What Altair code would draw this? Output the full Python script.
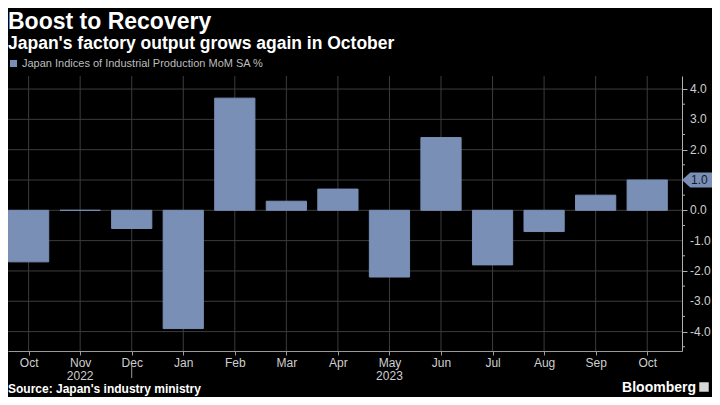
import json
import altair as alt
import pandas as pd

# ---- data ----
months = ["Oct", "Nov", "Dec", "Jan", "Feb", "Mar", "Apr", "May", "Jun", "Jul", "Aug", "Sep", "Oct"]
values = [-1.7, 0.0, -0.6, -3.9, 3.7, 0.3, 0.7, -2.2, 2.4, -1.8, -0.7, 0.5, 1.0]
years = ["2022", "2023"]
year_month_index = [1, 7]
separator_index = [2]
series_name = "Japan Indices of Industrial Production MoM SA %"
y_major = [-4.0, -3.0, -2.0, -1.0, 0.0, 1.0, 2.0, 3.0, 4.0]
y_major_labels = ["-4.0", "-3.0", "-2.0", "-1.0", "0.0", "1.0", "2.0", "3.0", "4.0"]
y_minor = [-4.5, -3.5, -2.5, -1.5, -0.5, 0.5, 1.5, 2.5, 3.5]

# ---- styling ----
W, H = 674, 275
BAR = "#7a8fb6"
LABEL = "#cfcfcf"
AXIS = "#b0b0b0"
GRID = "#3c3c3c"
FONT = "Liberation Sans"

df = pd.DataFrame({"idx": list(range(len(months))), "month": months,
                   "value": values, "series": series_name})
df_years = pd.DataFrame({"idx": year_month_index, "year": years})
df_sep = pd.DataFrame({"idx": separator_index})
df_minor = pd.DataFrame({"v": y_minor})
df_major = pd.DataFrame({"v": y_major, "label": y_major_labels})
df_last = df.tail(1).copy()
df_last["label"] = df_last["value"].map(lambda v: f"{v:.1f}")

xscale = alt.Scale(domain=[-0.4, 12.675], nice=False, zero=False)
yscale = alt.Scale(domain=[-4.64, 4.43], nice=False)

month_expr = json.dumps(months) + "[datum.value]"

# grid lines (behind the bars)
grid_v = alt.Chart(df).mark_rule(color=GRID, strokeWidth=1, opacity=1).encode(
    x=alt.X("idx:Q", scale=xscale, title=None,
            axis=alt.Axis(values=list(range(len(months))), labelExpr=month_expr,
                          grid=False, domainColor="#9a9a9a", tickColor="#9a9a9a",
                          tickSize=4, labelColor=LABEL, labelFont=FONT,
                          labelFontSize=12, labelPadding=2)),
    y=alt.value(0), y2=alt.value(H))

grid_h = alt.Chart(df_major).mark_rule(color=GRID, strokeWidth=1, opacity=1).encode(
    y=alt.Y("v:Q", scale=yscale, title=None,
            axis=alt.Axis(orient="right", values=y_major, labels=False, grid=False,
                          domainColor=AXIS, tickColor=AXIS, tickSize=5)),
    x=alt.value(0), x2=alt.value(W))

bars = alt.Chart(df).transform_calculate(
    lo="datum.idx - 0.39", hi="datum.idx + 0.39"
).mark_bar(stroke=BAR, strokeWidth=1).encode(
    x=alt.X("lo:Q", scale=xscale),
    x2="hi:Q",
    y=alt.Y("value:Q", scale=yscale),
    y2=alt.datum(0),
    color=alt.Color("series:N", scale=alt.Scale(range=[BAR]),
                    legend=alt.Legend(orient="none", legendX=0, legendY=-18, title=None,
                                      symbolType="square", symbolSize=50,
                                      symbolStrokeWidth=0, labelColor="#bdbdbd",
                                      labelFont=FONT, labelFontSize=11, labelOffset=3,
                                      labelLimit=600)),
)

minor_ticks = alt.Chart(df_minor).mark_rule(color=AXIS, strokeWidth=1).encode(
    y="v:Q", x=alt.value(W), x2=alt.value(W + 3))

y_labels = alt.Chart(df_major).mark_text(
    font=FONT, fontSize=12, color=LABEL, align="left", baseline="middle"
).encode(y="v:Q", x=alt.value(W + 8), text="label:N")

year_text = alt.Chart(df_years).mark_text(
    font=FONT, fontSize=12, color=LABEL, baseline="top", align="center"
).encode(x="idx:Q", y=alt.value(H + 20), text="year:N")

sep_rule = alt.Chart(df_sep).mark_rule(color="#9a9a9a", strokeWidth=1).encode(
    x="idx:Q", y=alt.value(H + 15), y2=alt.value(H + 27))

tag = alt.Chart(df_last).mark_point(
    shape="M -1 0 L -0.45 -0.5 L 1 -0.5 L 1 0.5 L -0.45 0.5 Z",
    filled=True, fill=BAR, opacity=1, size=900, strokeWidth=0
).encode(x=alt.value(W + 15), y="value:Q")

tag_text = alt.Chart(df_last).mark_text(
    font=FONT, fontSize=12, color="#15192a", align="left", baseline="middle"
).encode(x=alt.value(W + 9), y="value:Q", text="label:N")

source = alt.Chart(pd.DataFrame({"t": ["Source: Japan's industry ministry"]})).mark_text(
    font=FONT, fontSize=12, fontWeight="bold", color="#ffffff", align="left",
    baseline="alphabetic"
).encode(x=alt.value(0), y=alt.value(H + 42), text="t:N")

brand = alt.Chart(pd.DataFrame({"t": ["Bloomberg"]})).mark_text(
    font=FONT, fontSize=14, fontWeight="bold", color="#ffffff", align="right",
    baseline="alphabetic"
).encode(x=alt.value(W + 14), y=alt.value(H + 41), text="t:N")

icon = alt.Chart(pd.DataFrame({"t": ["icon"]})).mark_square(
    color="#d8d8d8", size=90, opacity=1
).encode(x=alt.value(W + 22), y=alt.value(H + 36))

chart = alt.layer(grid_v, grid_h, bars, minor_ticks, y_labels, year_text, sep_rule,
                  tag, tag_text, source, brand, icon).properties(
    width=W, height=H,
    autosize=alt.AutoSizeParams(type="none"),
    padding={"left": 0, "top": 68, "right": 30, "bottom": 46},
    background="#000000",
    title=alt.TitleParams(
        "Boost to Recovery",
        subtitle="Japan's factory output grows again in October",
        anchor="start", frame="group", offset=6,
        font=FONT, fontSize=23, fontWeight="bold", color="#ffffff",
        subtitleFont=FONT, subtitleFontSize=17.5, subtitleFontWeight="bold",
        subtitleColor="#ffffff", subtitlePadding=1,
    ),
).configure_view(stroke="transparent")

chart.save("out.html", embed_options={"renderer": "svg", "actions": False})
